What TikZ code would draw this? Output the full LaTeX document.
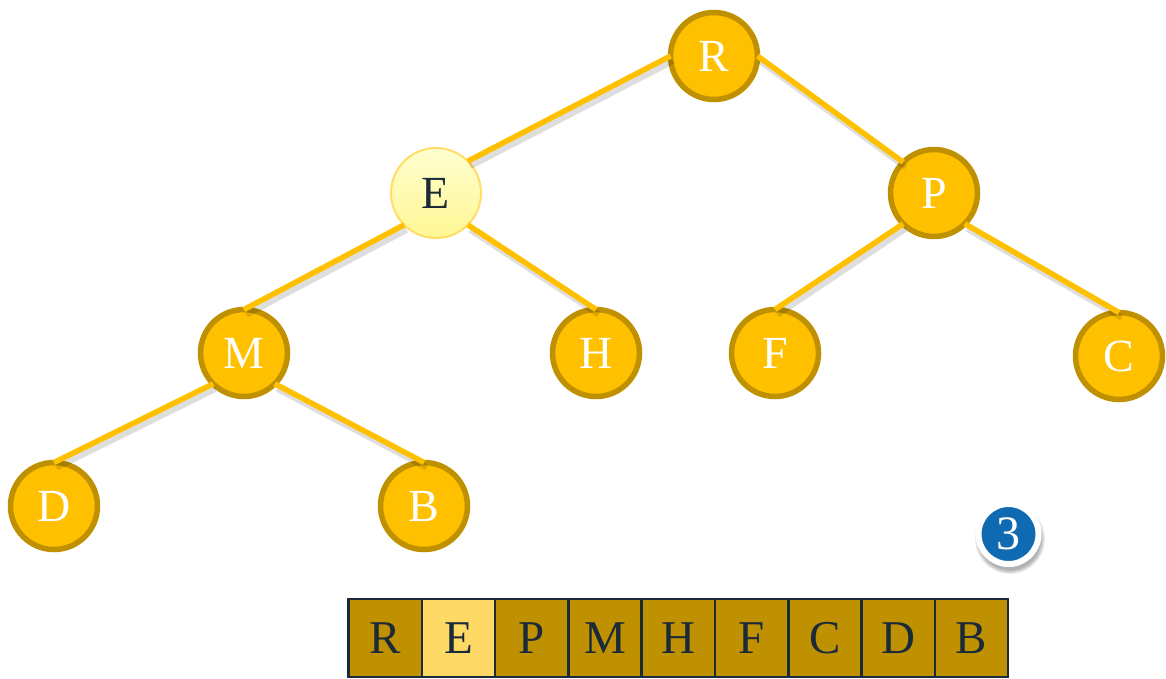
\documentclass[tikz,border=0pt]{standalone}
\usepackage{fontspec}
\setmainfont{Liberation Serif}

\definecolor{heapfill}{HTML}{FFC000}
\definecolor{heapedge}{HTML}{BF9000}
\definecolor{markfill}{HTML}{FFF694}
\definecolor{marktop}{HTML}{FFFFD0}
\definecolor{markedge}{HTML}{FFDD66}
\definecolor{ink}{HTML}{1B2A38}
\definecolor{cellfill}{HTML}{BF9000}
\definecolor{cellmark}{HTML}{FFD966}
\definecolor{badgeblue}{HTML}{0F6AB2}

\begin{document}
\begin{tikzpicture}[x=1pt,y=-1pt,
  heapnode/.style={circle, minimum size=87pt, inner sep=0pt, outer sep=0pt,
    line width=5.5pt, draw=heapedge, fill=heapfill, text=white,
    font=\fontsize{46}{46}\selectfont},
  marknode/.style={heapnode, line width=2pt, draw=markedge,
    top color=marktop, bottom color=markfill, text=ink, minimum size=90pt},
  link/.style={draw=heapfill, line width=5.5pt},
  linkshadow/.style={draw=black, line width=6pt, opacity=0.13},
  cell/.style={rectangle, minimum width=73.3pt, minimum height=78pt,
    inner sep=0pt, outer sep=0pt, draw=ink, line width=2.5pt, fill=cellfill,
    text=ink, font=\fontsize{47}{47}\selectfont},
  markcell/.style={cell, fill=cellmark},
  badge/.style={circle, minimum size=60pt, inner sep=0pt, fill=badgeblue,
    draw=white, line width=6pt, text=white,
    font=\fontsize{48}{48}\selectfont}
]
\useasboundingbox (0,0) rectangle (1166,678);

% tree nodes
\node[heapnode] (R) at (714,56) {R};
\node[marknode] (E) at (436,193) {E};
\node[heapnode] (P) at (934,193) {P};
\node[heapnode] (M) at (244,353) {M};
\node[heapnode] (H) at (596,353) {H};
\node[heapnode] (F) at (775,353) {F};
\node[heapnode] (C) at (1119,356) {C};
\node[heapnode] (D) at (54,506) {D};
\node[heapnode] (B) at (424,506) {B};

% soft shadows under the links
\foreach \a/\b in {R.west/E.north east, R.east/P.north west,
                   E.south west/M.north, E.south east/H.north,
                   P.south west/F.north, P.south east/C.north,
                   M.south west/D.north, M.south east/B.north}
  \draw[linkshadow] ([shift={(2.5,5)}]\a) -- ([shift={(2.5,5)}]\b);

% links between parent and child
\draw[link] (R.west) -- (E.north east);
\draw[link] (R.east) -- (P.north west);
\draw[link] (E.south west) -- (M.north);
\draw[link] (E.south east) -- (H.north);
\draw[link] (P.south west) -- (F.north);
\draw[link] (P.south east) -- (C.north);
\draw[link] (M.south west) -- (D.north);
\draw[link] (M.south east) -- (B.north);

% step badge with a soft shadow
\coordinate (badgeshade) at (1010,539);
\foreach \r in {35,34,33,32,31}
  \fill[black, opacity=0.07] (badgeshade) circle[radius=\r];
\node[badge] (step3) at (1008.5,534) {3};

% array representation
\foreach \t [count=\i] in {R,E,P,M,H,F,C,D,B} {
  \ifnum\i=2
    \node[markcell] (c\i) at ({348.5+73.3*(\i-0.5)},638) {\t};
  \else
    \node[cell] (c\i) at ({348.5+73.3*(\i-0.5)},638) {\t};
  \fi
}
\end{tikzpicture}
\end{document}
